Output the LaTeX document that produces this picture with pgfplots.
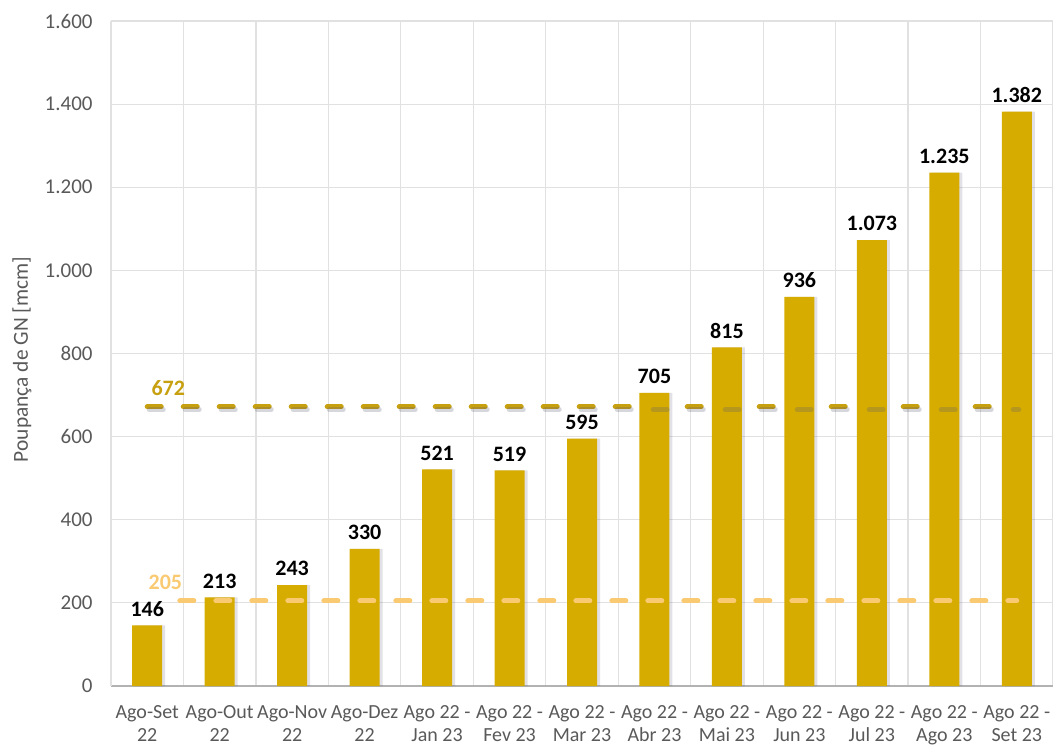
\documentclass[border=0pt]{standalone}
\usepackage{fontspec}
\setmainfont{Carlito}
\usepackage{pgfplots}
\pgfplotsset{compat=1.18}
\definecolor{barc}{RGB}{214,172,0}
\definecolor{hic}{RGB}{199,160,16}
\definecolor{loc}{RGB}{250,202,115}
\definecolor{txt}{RGB}{89,89,89}
\definecolor{grd}{RGB}{225,225,225}
\definecolor{shd}{RGB}{90,90,120}

\begin{document}
\begin{tikzpicture}
\begin{axis}[
    name=ax,
    scale only axis,
    width=471pt, height=332.5pt,
    xmin=-0.5, xmax=12.5,
    ymin=0, ymax=1600,
    ytick={0,200,...,1600},
    xtick={0,...,12},
    xticklabels={{Ago-Set\\22},{Ago-Out\\22},{Ago-Nov\\22},{Ago-Dez\\22},
      {Ago 22 -\\Jan 23},{Ago 22 -\\Fev 23},{Ago 22 -\\Mar 23},{Ago 22 -\\Abr 23},
      {Ago 22 -\\Mai 23},{Ago 22 -\\Jun 23},{Ago 22 -\\Jul 23},{Ago 22 -\\Ago 23},
      {Ago 22 -\\Set 23}},
    minor xtick={-0.5,0.5,...,12.5},
    xminorgrids=true,
    ymajorgrids=true,
    grid style={grd, line width=0.6pt},
    minor grid style={grd, line width=0.6pt},
    axis x line=bottom,
    axis y line=left,
    x axis line style={-, draw=black!30, line width=0.6pt},
    y axis line style={-, draw=grd, line width=0.6pt},
    major tick length=0pt,
    minor tick length=0pt,
    xticklabel style={font=\fontsize{10}{11.5}\selectfont, text=txt,
      align=center, anchor=north, inner sep=0pt, yshift=-9.5pt},
    yticklabel style={font=\fontsize{10.5}{12}\selectfont, text=txt,
      anchor=east, inner sep=0pt, xshift=-9pt},
    /pgf/number format/1000 sep={.},
    /pgf/number format/assume math mode=true,
    ylabel={Poupança de GN [mcm]},
    every axis y label/.style={at={(axis description cs:-0.0945,0.491)}, rotate=90,
      anchor=center, font=\fontsize{10.7}{12}\selectfont, text=txt},
]

% 672 line sits behind the bars
\addplot[hic, line width=2.5pt, line cap=round, dash pattern=on 7pt off 11pt]
  coordinates {(0,672) (12,672)};

% soft shadow of the bars
\addplot[ybar, bar width=15pt, bar shift=1.5pt, fill=shd, fill opacity=0.18, draw=none]
  coordinates {
    (0,146) (1,213) (2,243) (3,330) (4,521) (5,519) (6,595)
    (7,705) (8,815) (9,936) (10,1073) (11,1235) (12,1382)
  };

\addplot[ybar, bar width=15pt, fill=barc, draw=none,
    nodes near coords,
    nodes near coords style={font=\bfseries\fontsize{11}{13}\selectfont,
      text=black, anchor=south, yshift=1pt}]
  coordinates {
    (0,146) (1,213) (2,243) (3,330) (4,521) (5,519) (6,595)
    (7,705) (8,815) (9,936) (10,1073) (11,1235) (12,1382)
  };

% shadow of the 672 dashes falls on the bars
\addplot[shd, opacity=0.25, line width=2.5pt, line cap=round,
    dash pattern=on 7pt off 11pt, yshift=-1.5pt, xshift=1pt]
  coordinates {(0,672) (12,672)};

\addplot[loc, line width=2.5pt, line cap=round, dash pattern=on 7pt off 11pt]
  coordinates {(0.45,205) (12,205)};

\node[text=hic, font=\bfseries\fontsize{11}{13}\selectfont] at (axis cs:0.29,717) {672};
\node[text=loc, font=\bfseries\fontsize{11}{13}\selectfont] at (axis cs:0.25,250) {205};
\end{axis}
\pgfresetboundingbox
\path ([xshift=-55.5pt,yshift=-32pt]ax.south west) rectangle ([yshift=10.5pt]ax.north east);
\end{tikzpicture}
\end{document}
